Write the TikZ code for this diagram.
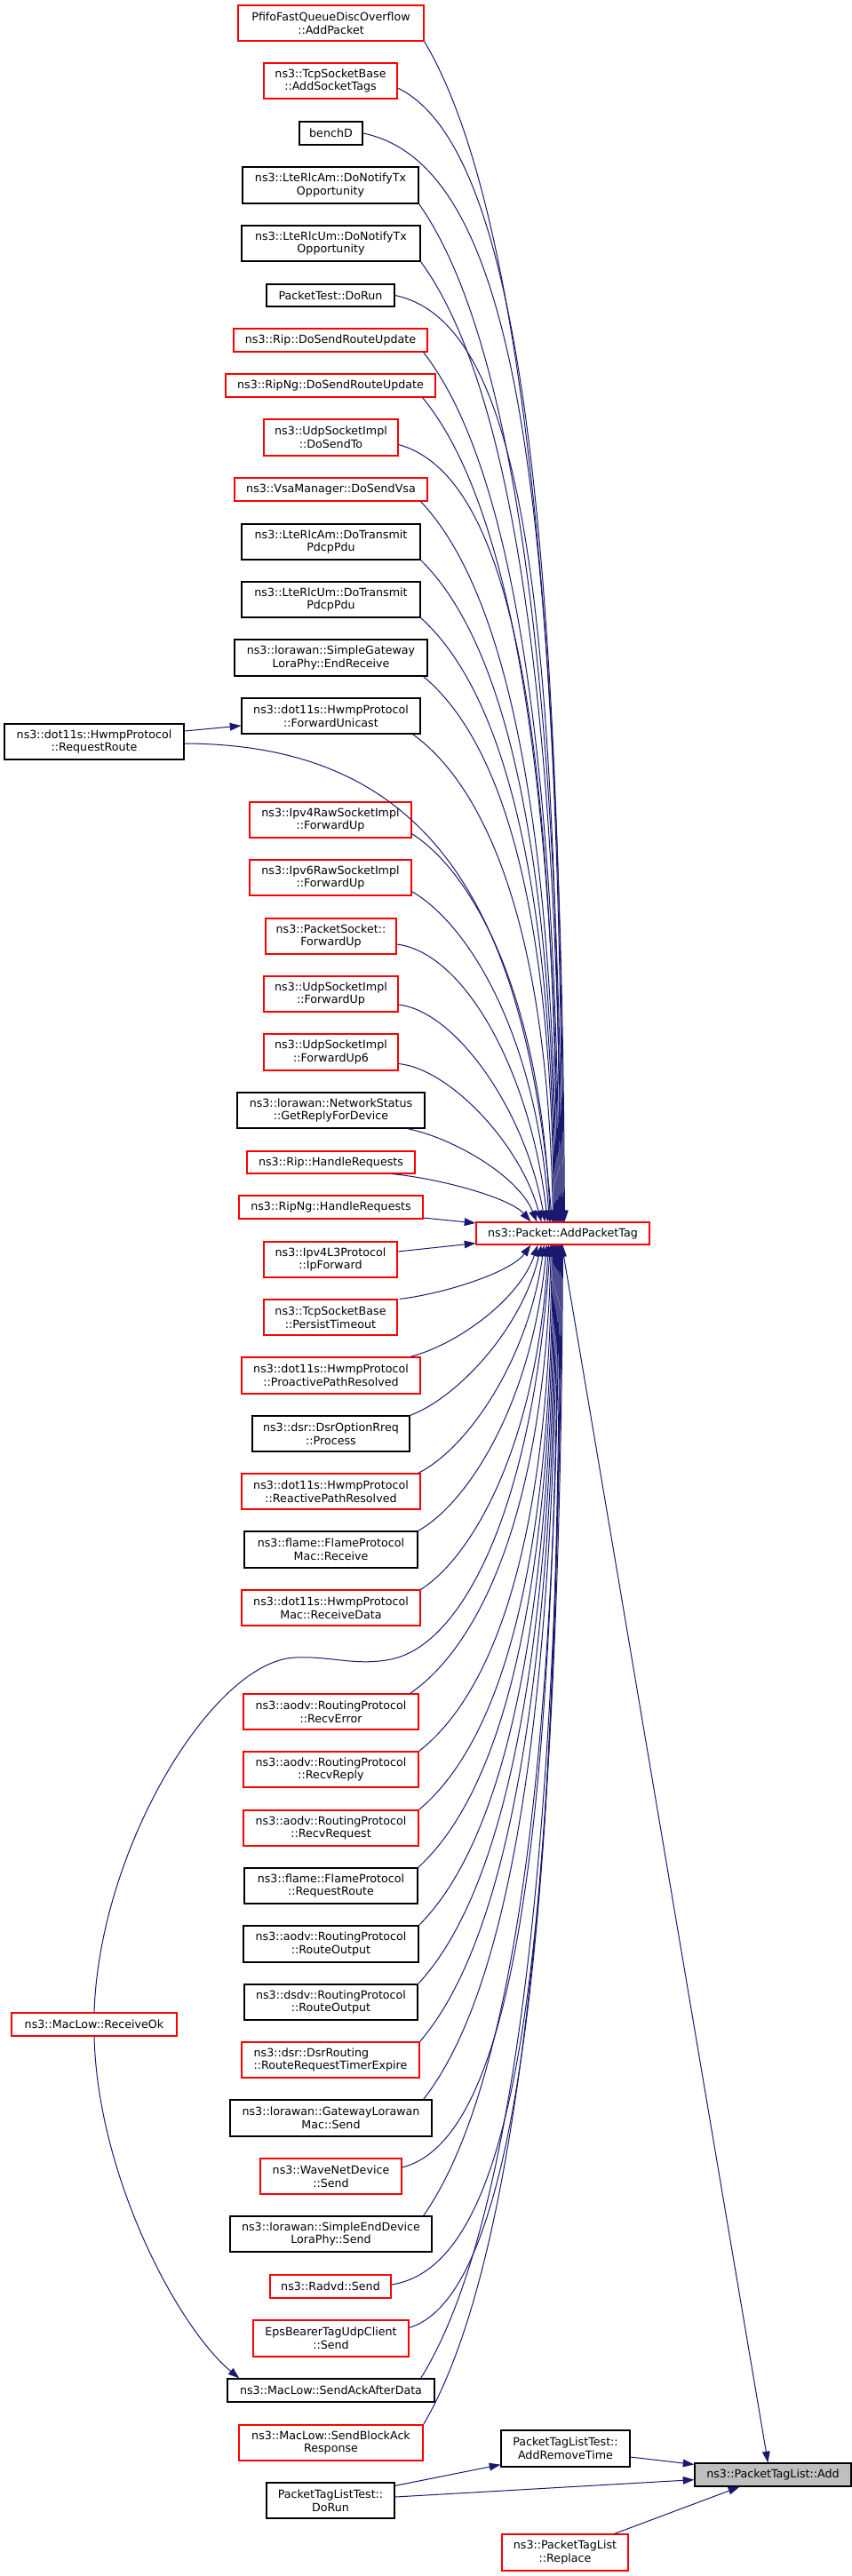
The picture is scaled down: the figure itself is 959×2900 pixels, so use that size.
\documentclass[tikz,border=0pt]{standalone}
\usepackage{fontspec}
\setmainfont{DejaVu Sans}
\usetikzlibrary{arrows.meta,calc}
\definecolor{edgeblue}{HTML}{191970}
\definecolor{nodegray}{HTML}{BFBFBF}
\tikzset{
  box/.style={draw, line width=0.9pt, fill=white, inner sep=0pt, align=center, font=\fontsize{9.5}{11}\selectfont, text=black},
  redbox/.style={box, draw=red},
  blkbox/.style={box, draw=black},
  graybox/.style={box, draw=black, fill=nodegray},
  edge/.style={draw=edgeblue, line width=0.75pt, -{Triangle[length=9.5pt,width=6.5pt]}}
}
\newcommand\bx[7]{\node[#2, minimum width={(#5-#3)*0.75pt}, minimum height={(#6-#4)*0.75pt}] (#1) at ({(#3+#5)/2},{(#4+#6)/2}) {#7};}
% #1 start point, #2 x offset on AddPacketTag, #3 early bend, #4 initial drop
\newcommand\eup[4]{\draw[edge] let \p1=#1, \p2=($(apt.north west)+(#2,0)$), \n1={min(1,max(0,(abs(\y2-\y1)/0.75-200)/400))} in (\p1) .. controls ({\x1+(0.35+\n1*(#3-0.35))*(\x2-\x1)},{\y1+#4*(\y2-\y1)}) and ({\x2-(0.15-0.13*\n1)*(\x2-\x1)},{\y2-(0.5+0.15*\n1)*(\y2-\y1)}) .. (\p2);}
\newcommand\edn[4]{\draw[edge] let \p1=#1, \p2=($(apt.south west)+(#2,0)$), \n1={min(1,max(0,(abs(\y2-\y1)/0.75-200)/400))} in (\p1) .. controls ({\x1+(0.35+\n1*(#3-0.35))*(\x2-\x1)},{\y1+#4*(\y2-\y1)}) and ({\x2-(0.15-0.13*\n1)*(\x2-\x1)},{\y2-(0.5+0.15*\n1)*(\y2-\y1)}) .. (\p2);}
\begin{document}
\begin{tikzpicture}[x=0.75pt,y=-0.75pt]
\fill[white] (0,0) rectangle (959,2900);
\useasboundingbox (0,0) rectangle (959,2900);
% column of callers
\bx{n1}{redbox}{268}{6}{477}{46}{PfifoFastQueueDiscOverflow\\::AddPacket}
\bx{n2}{redbox}{297}{71}{447}{111}{ns3::TcpSocketBase\\::AddSocketTags}
\bx{n3}{blkbox}{337}{137}{408}{163}{benchD}
\bx{n4}{blkbox}{273}{188}{471}{229}{ns3::LteRlcAm::DoNotifyTx\\Opportunity}
\bx{n5}{blkbox}{272}{254}{473}{294}{ns3::LteRlcUm::DoNotifyTx\\Opportunity}
\bx{n6}{blkbox}{300}{320}{444}{345}{PacketTest::DoRun}
\bx{n7}{redbox}{263}{370}{481}{396}{ns3::Rip::DoSendRouteUpdate}
\bx{n8}{redbox}{254}{421}{490}{447}{ns3::RipNg::DoSendRouteUpdate}
\bx{n9}{redbox}{297}{472}{448}{513}{ns3::UdpSocketImpl\\::DoSendTo}
\bx{n10}{redbox}{264}{538}{481}{564}{ns3::VsaManager::DoSendVsa}
\bx{n11}{blkbox}{272}{590}{473}{630}{ns3::LteRlcAm::DoTransmit\\PdcpPdu}
\bx{n12}{blkbox}{272}{655}{473}{695}{ns3::LteRlcUm::DoTransmit\\PdcpPdu}
\bx{n13}{blkbox}{264}{720}{481}{761}{ns3::lorawan::SimpleGateway\\LoraPhy::EndReceive}
\bx{n14}{blkbox}{272}{786}{473}{826}{ns3::dot11s::HwmpProtocol\\::ForwardUnicast}
\bx{reqroute}{blkbox}{5}{815}{207}{855}{ns3::dot11s::HwmpProtocol\\::RequestRoute}
\bx{n16}{redbox}{281}{903}{463}{943}{ns3::Ipv4RawSocketImpl\\::ForwardUp}
\bx{n17}{redbox}{281}{968}{463}{1008}{ns3::Ipv6RawSocketImpl\\::ForwardUp}
\bx{n18}{redbox}{299}{1034}{446}{1074}{ns3::PacketSocket::\\ForwardUp}
\bx{n19}{redbox}{297}{1099}{448}{1139}{ns3::UdpSocketImpl\\::ForwardUp}
\bx{n20}{redbox}{297}{1164}{448}{1205}{ns3::UdpSocketImpl\\::ForwardUp6}
\bx{n21}{blkbox}{267}{1230}{478}{1270}{ns3::lorawan::NetworkStatus\\::GetReplyForDevice}
\bx{n22}{redbox}{278}{1296}{467}{1321}{ns3::Rip::HandleRequests}
\bx{n23}{redbox}{269}{1346}{476}{1372}{ns3::RipNg::HandleRequests}
\bx{apt}{redbox}{536}{1376}{731}{1401}{ns3::Packet::AddPacketTag}
\bx{n24}{redbox}{297}{1398}{447}{1438}{ns3::Ipv4L3Protocol\\::IpForward}
\bx{n25}{redbox}{297}{1463}{447}{1503}{ns3::TcpSocketBase\\::PersistTimeout}
\bx{n26}{redbox}{272}{1528}{473}{1569}{ns3::dot11s::HwmpProtocol\\::ProactivePathResolved}
\bx{n27}{blkbox}{284}{1594}{461}{1634}{ns3::dsr::DsrOptionRreq\\::Process}
\bx{n28}{redbox}{272}{1659}{473}{1699}{ns3::dot11s::HwmpProtocol\\::ReactivePathResolved}
\bx{n29}{blkbox}{275}{1724}{470}{1765}{ns3::flame::FlameProtocol\\Mac::Receive}
\bx{n30}{redbox}{272}{1790}{473}{1830}{ns3::dot11s::HwmpProtocol\\Mac::ReceiveData}
\bx{n31}{redbox}{274}{1907}{471}{1947}{ns3::aodv::RoutingProtocol\\::RecvError}
\bx{n32}{redbox}{274}{1972}{471}{2012}{ns3::aodv::RoutingProtocol\\::RecvReply}
\bx{n33}{redbox}{274}{2038}{471}{2078}{ns3::aodv::RoutingProtocol\\::RecvRequest}
\bx{n34}{blkbox}{275}{2103}{470}{2143}{ns3::flame::FlameProtocol\\::RequestRoute}
\bx{n35}{blkbox}{274}{2168}{471}{2209}{ns3::aodv::RoutingProtocol\\::RouteOutput}
\bx{n36}{blkbox}{275}{2234}{470}{2274}{ns3::dsdv::RoutingProtocol\\::RouteOutput}
\bx{n37}{redbox,align=left}{272}{2299}{472}{2339}{ns3::dsr::DsrRouting\\::RouteRequestTimerExpire}
\bx{n38}{blkbox}{259}{2364}{486}{2405}{ns3::lorawan::GatewayLorawan\\Mac::Send}
\bx{n39}{redbox}{293}{2430}{452}{2470}{ns3::WaveNetDevice\\::Send}
\bx{n40}{blkbox}{259}{2495}{486}{2535}{ns3::lorawan::SimpleEndDevice\\LoraPhy::Send}
\bx{recvok}{redbox}{13}{2266}{199}{2292}{ns3::MacLow::ReceiveOk}
\bx{n41}{redbox}{304}{2561}{440}{2587}{ns3::Radvd::Send}
\bx{n42}{redbox}{285}{2612}{460}{2653}{EpsBearerTagUdpClient\\::Send}
\bx{n43}{blkbox}{256}{2678}{489}{2704}{ns3::MacLow::SendAckAfterData}
\bx{n44}{redbox}{269}{2730}{476}{2770}{ns3::MacLow::SendBlockAck\\Response}
\bx{addrm}{blkbox}{564}{2736}{709}{2777}{PacketTagListTest::\\AddRemoveTime}
\bx{ptldorun}{blkbox}{300}{2795}{444}{2835}{PacketTagListTest::\\DoRun}
\bx{add}{graybox}{782}{2773}{958}{2799}{ns3::PacketTagList::Add}
\bx{replace}{redbox}{565}{2853}{707}{2894}{ns3::PacketTagList\\::Replace}
% edges into AddPacketTag from above
\eup{(n1.south east)}{100}{0.5}{0.1}
\eup{($(n2.east)+(0,8)$)}{99}{0.7}{0.05}
\eup{(n3.east)}{98}{0.8}{0.03}
\eup{(n4.south east)}{97}{0.5}{0.1}
\eup{(n5.south east)}{96}{0.5}{0.1}
\eup{(n6.east)}{95}{0.8}{0.03}
\eup{($(n7.south east)+(-5,0)$)}{94}{0.5}{0.1}
\eup{($(n8.south east)+(-15,0)$)}{93}{0.5}{0.1}
\eup{($(n9.east)+(0,8)$)}{92}{0.7}{0.04}
\eup{($(n10.south east)+(-8,0)$)}{91}{0.5}{0.1}
\eup{(n11.south east)}{90}{0.5}{0.1}
\eup{(n12.south east)}{89}{0.5}{0.1}
\eup{($(n13.south east)+(-5,0)$)}{88}{0.5}{0.1}
\eup{($(n14.south east)+(-9,0)$)}{87}{0.5}{0.1}
\draw[edge] ($(reqroute.east)+(0,2)$) .. controls (470,838) and (590,1000) .. ($(apt.north west)+(86,0)$);
\draw[edge] ($(reqroute.east)+(0,-12)$) -- ($(n14.west)+(0,11)$);
\eup{($(n16.south east)+(0,-5)$)}{84}{0.5}{0.1}
\eup{($(n17.south east)+(0,-5)$)}{83}{0.5}{0.1}
\eup{($(n18.east)+(0,9)$)}{81}{0.7}{0.03}
\eup{($(n19.east)+(0,12)$)}{78}{0.7}{0.03}
\eup{($(n20.east)+(0,13)$)}{74}{0.7}{0.03}
\eup{($(n21.south east)+(-20,0)$)}{69}{0.5}{0.1}
\eup{($(n22.south east)+(-26,0)$)}{62}{0.5}{0.1}
\draw[edge] ($(n23.east)+(0,12)$) -- ($(apt.north west)+(0,1.5)$);
\draw[edge] ($(n24.east)+(0,-9)$) -- ($(apt.south west)+(0,-2)$);
% edges into AddPacketTag from below
\edn{($(n25.north east)+(2,0)$)}{62}{0.5}{0.1}
\edn{($(n26.north east)+(-12,0)$)}{70}{0.5}{0.1}
\edn{(n27.north east)}{74}{0.5}{0.1}
\edn{($(n28.north east)+(-3,0)$)}{77}{0.5}{0.1}
\edn{(n29.north east)}{80}{0.5}{0.1}
\edn{(n30.north east)}{82}{0.5}{0.1}
\draw[edge] (recvok.north) .. controls (112,2080) and (240,1870) .. (332,1866)
  .. controls (372,1864) and (400,1876) .. (440,1868)
  .. controls (520,1852) and (600,1700) .. ($(apt.south west)+(84,0)$);
\draw[edge] (recvok.south) .. controls (110,2450) and (200,2620) .. ($(n43.north west)+(14,0)$);
\edn{($(n31.north east)+(-10,0)$)}{85}{0.5}{0.1}
\edn{(n32.north east)}{86}{0.5}{0.1}
\edn{(n33.north east)}{87}{0.5}{0.1}
\edn{(n34.north east)}{88}{0.5}{0.1}
\edn{(n35.north east)}{89}{0.5}{0.1}
\edn{(n36.north east)}{90}{0.5}{0.1}
\edn{(n37.north east)}{91}{0.5}{0.1}
\edn{($(n38.north east)+(-10,0)$)}{92}{0.5}{0.1}
\edn{($(n39.east)+(0,-10)$)}{93}{0.7}{0.03}
\edn{($(n40.north east)+(-10,0)$)}{94}{0.5}{0.1}
\edn{($(n41.east)+(0,-2)$)}{95}{0.8}{0.02}
\edn{($(n42.east)+(0,-12)$)}{96}{0.7}{0.03}
\edn{($(n43.north east)+(-16,0)$)}{97}{0.5}{0.1}
\edn{(n44.north east)}{98}{0.5}{0.1}
% edges into PacketTagList::Add
\draw[edge] ($(apt.south west)+(97,0)$) -- ($(add.north west)+(83,0)$);
\draw[edge] ($(addrm.east)+(0,9.5)$) -- ($(add.north west)+(0,2)$);
\draw[edge] ($(ptldorun.north east)+(0,4)$) -- ($(addrm.south west)+(0,-3)$);
\draw[edge] ($(ptldorun.east)+(0,-4)$) -- ($(add.south west)+(0,-8)$);
\draw[edge] ($(replace.north east)+(-16,0)$) -- ($(add.south west)+(51,0)$);
\end{tikzpicture}
\end{document}
